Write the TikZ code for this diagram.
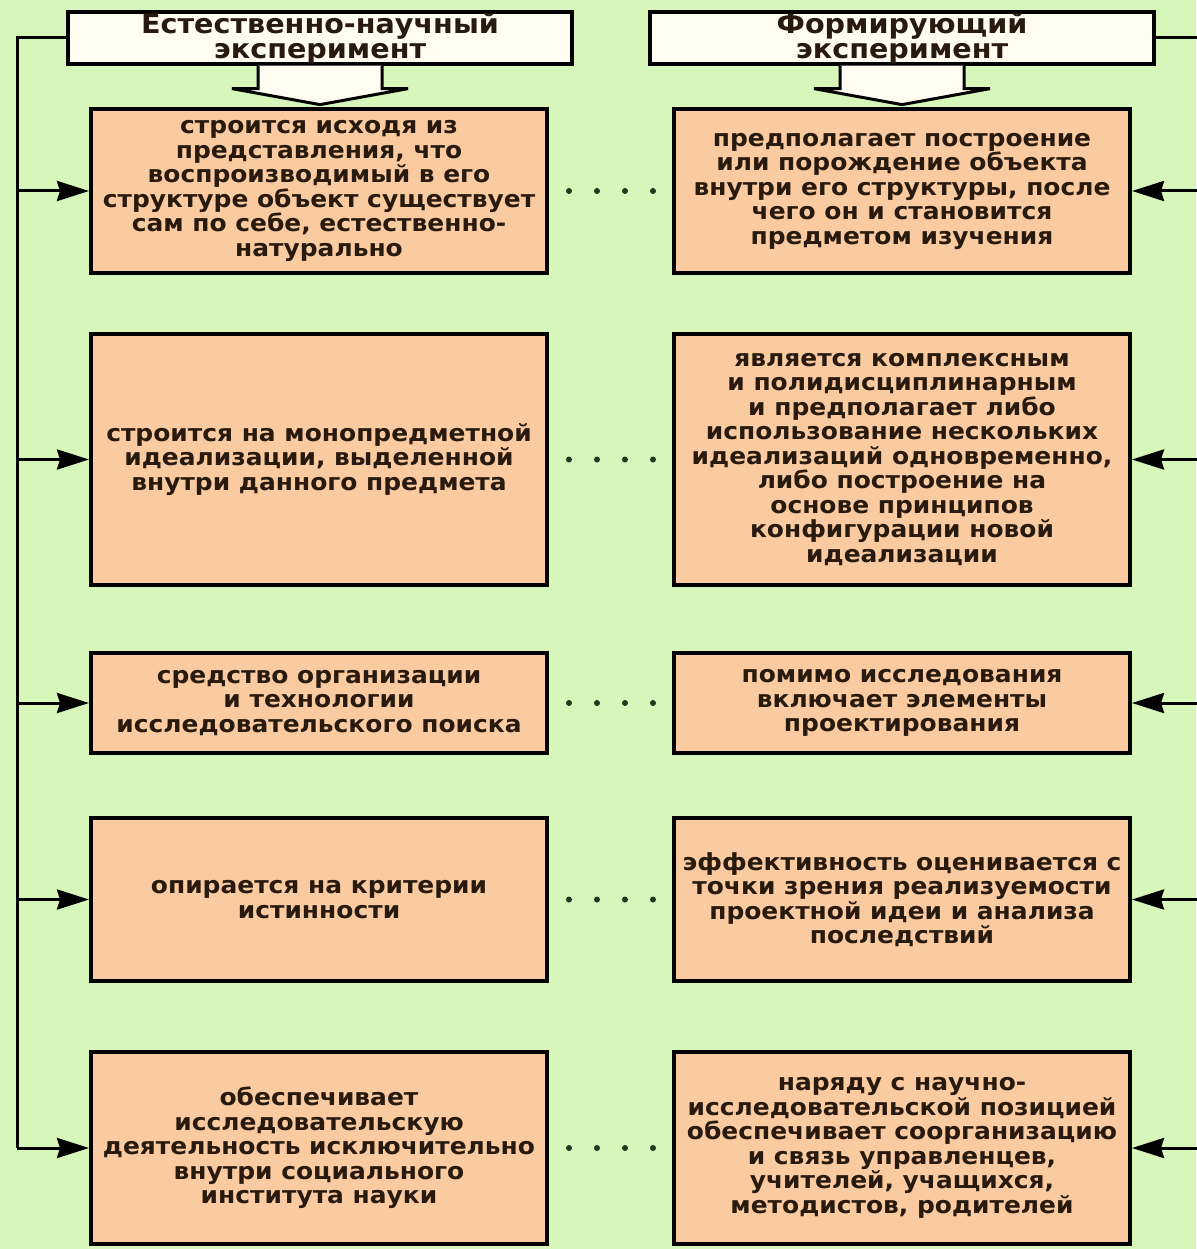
\documentclass[tikz,border=0pt]{standalone}
\usepackage{fontspec}
\setmainfont{DejaVu Sans}[FakeStretch=1.06]
\usetikzlibrary{positioning,arrows.meta}
\definecolor{bgc}{RGB}{214,246,186}
\definecolor{boxc}{RGB}{250,202,160}
\definecolor{headc}{RGB}{255,253,242}
\definecolor{txtc}{RGB}{40,26,14}
\definecolor{dotc}{RGB}{28,58,30}

\begin{document}
\begin{tikzpicture}[x=1pt,y=-1pt,
		hbox/.style={draw=black,line width=4pt,fill=headc,inner sep=0pt,minimum width=504pt,minimum height=50pt,align=center,text=txtc,font=\fontsize{27}{25}\selectfont\bfseries},
		cbox/.style={draw=black,line width=4pt,fill=boxc,inner sep=0pt,minimum width=456pt,align=center,text=txtc,font=\fontsize{23.5}{24.5}\selectfont\bfseries},
		link/.style={line width=3pt,black},
		feed/.style={link,-{Stealth[length=32pt,width=20pt,inset=3pt]}},
		dotrow/.style={dotc,line width=6pt,line cap=round,dash pattern=on 0pt off 28pt,shorten <=20pt,shorten >=19pt},
		harrow/.style={draw=black,line width=3pt,fill=headc,line join=miter}]
		\useasboundingbox[fill=bgc] (0,0) rectangle (1196,1249);
		\coordinate (ls) at (17,0);
		\coordinate (rs) at (1201,0);
		\node[hbox] (hl) at (320,38) {Естественно-научный\\эксперимент};
		\node[hbox] (hr) at (902,38) {Формирующий\\эксперимент};
		\filldraw[harrow,shift={(hl.south)}] (-62,0) -- (-62,23) -- (-88,23) -- (0,39) -- (88,23) -- (62,23) -- (62,0);
		\filldraw[harrow,shift={(hr.south)}] (-62,0) -- (-62,23) -- (-88,23) -- (0,39) -- (88,23) -- (62,23) -- (62,0);
		\node[cbox,minimum height=164pt] (l1) at (319,191) {строится исходя из\\представления, что\\воспроизводимый в его\\структуре объект существует\\сам по себе, естественно-\\натурально};
		\node[cbox,minimum height=164pt] (r1) at (902,191) {предполагает построение\\или порождение объекта\\внутри его структуры, после\\чего он и становится\\предметом изучения};
		\node[cbox,minimum height=251pt] (l2) at (319,459.5) {строится на монопредметной\\идеализации, выделенной\\внутри данного предмета};
		\node[cbox,minimum height=251pt] (r2) at (902,459.5) {является комплексным\\и полидисциплинарным\\и предполагает либо\\использование нескольких\\идеализаций одновременно,\\либо построение на\\основе принципов\\конфигурации новой\\идеализации};
		\node[cbox,minimum height=100pt] (l3) at (319,703) {средство организации\\и технологии\\исследовательского поиска};
		\node[cbox,minimum height=100pt] (r3) at (902,703) {помимо исследования\\включает элементы\\проектирования};
		\node[cbox,minimum height=163pt] (l4) at (319,899.5) {опирается на критерии\\истинности};
		\node[cbox,minimum height=163pt] (r4) at (902,899.5) {эффективность оценивается с\\точки зрения реализуемости\\проектной идеи и анализа\\последствий};
		\node[cbox,minimum height=192pt] (l5) at (319,1148) {обеспечивает\\исследовательскую\\деятельность исключительно\\внутри социального\\института науки};
		\node[cbox,minimum height=192pt] (r5) at (902,1148) {наряду с научно-\\исследовательской позицией\\обеспечивает соорганизацию\\и связь управленцев,\\учителей, учащихся,\\методистов, родителей};
		\draw[link] (hl.west) -| (ls |- l5.west);
		\draw[link] (hr.east) -| (rs |- r5.east);
		\draw[feed] (ls |- l1.west) -- (l1.west);
		\draw[feed] (ls |- l2.west) -- (l2.west);
		\draw[feed] (ls |- l3.west) -- (l3.west);
		\draw[feed] (ls |- l4.west) -- (l4.west);
		\draw[feed] (ls |- l5.west) -- (l5.west);
		\draw[feed] (rs |- r1.east) -- (r1.east);
		\draw[feed] (rs |- r2.east) -- (r2.east);
		\draw[feed] (rs |- r3.east) -- (r3.east);
		\draw[feed] (rs |- r4.east) -- (r4.east);
		\draw[feed] (rs |- r5.east) -- (r5.east);
		\draw[dotrow] (l1.east) -- (r1.west);
		\draw[dotrow] (l2.east) -- (r2.west);
		\draw[dotrow] (l3.east) -- (r3.west);
		\draw[dotrow] (l4.east) -- (r4.west);
		\draw[dotrow] (l5.east) -- (r5.west);
		\end{tikzpicture}
\end{document}
